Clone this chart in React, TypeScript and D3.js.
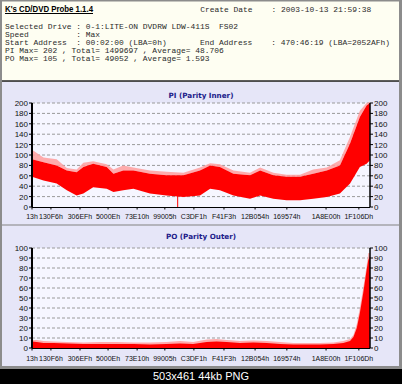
import React from "react";
import * as d3 from "d3";

// ---------- data ----------
const headerRows = [
  "Selected Drive : 0-1:LITE-ON DVDRW LDW-411S  FS02",
  "Speed          : Max",
  "Start Address  : 00:02:00 (LBA=0h)       End Address    : 470:46:19 (LBA=2052AFh)",
  "PI Max= 202 , Total= 1499697 , Average= 48.706",
  "PO Max= 105 , Total= 49052 , Average= 1.593",
];
const appTitle = "K's CD/DVD Probe 1.1.4";
const createDate = "Create Date    : 2003-10-13 21:59:38";

const xTickLabels = ["13h", "130F6h", "306EFh", "5000Eh", "73E10h", "99005h", "C3DF1h", "F41F3h", "12B054h", "169574h", "1A8E00h", "1F106Dh"];
// scan progress (%) at which each LBA label sits
const xTickPos = [0, 5.6, 14.2, 22.5, 31.1, 39.3, 47.9, 56.8, 66.0, 75.4, 87.0, 96.7];

const piTicks = [0, 20, 40, 60, 80, 100, 120, 140, 160, 180, 200];
const poTicks = [0, 10, 20, 30, 40, 50, 60, 70, 80, 90, 100];

// PI (Parity Inner): scan progress %, band low / high, spike peak
const piPos = [0, 3.4, 7.3, 10.3, 13.2, 15.2, 18.1, 22.1, 24.1, 27.0, 30.0, 34.9, 39.8, 44.8, 49.7, 52.7, 55.6, 59.6, 64.5, 67.5, 71.4, 75.3, 79.3, 83.2, 87.2, 91.1, 94.1, 97.0, 99.0, 100];
const piLow = [58, 51, 45, 32, 22, 26, 38, 35, 29, 32, 35, 26, 22, 19, 22, 35, 32, 22, 16, 22, 16, 13, 13, 16, 19, 26, 45, 77, 83, 90];
const piHigh = [92, 86, 80, 70, 67, 77, 83, 77, 64, 70, 70, 64, 61, 61, 70, 80, 77, 64, 61, 70, 61, 58, 58, 64, 70, 80, 122, 173, 195, 200];
const piPeak = [110, 95, 92, 75, 72, 85, 88, 82, 72, 80, 76, 70, 68, 66, 76, 84, 82, 70, 66, 76, 66, 62, 62, 72, 76, 90, 135, 185, 200, 202];
const piDropouts = [43.1];

// PO (Parity Outer): scan progress %, level, spike peak
const poPos = [0, 1.4, 3.4, 6.4, 10.3, 15.2, 20.1, 25.0, 30.0, 34.9, 39.8, 43.8, 47.7, 51.7, 54.6, 57.6, 61.5, 65.5, 69.4, 73.4, 77.3, 81.3, 85.2, 89.2, 92.1, 94.1, 95.1, 96.1, 97.0, 98.0, 99.0, 99.5, 100];
const poValue = [6.5, 6, 5, 5, 4.5, 4, 4, 4, 4, 3.5, 4, 4.5, 4, 6, 6.5, 6, 5, 5.5, 5, 4, 3.5, 3.5, 3.5, 4, 5, 7, 11, 20, 35, 55, 78, 88, 92];
const poPeak = [8, 8, 7, 6.5, 6, 5.5, 6, 6, 5.5, 5.5, 6, 7, 6, 8.5, 9, 8, 7, 7.5, 7, 6, 5, 5, 5, 5.5, 7, 9, 13, 24, 40, 60, 82, 95, 95];

const caption = "503x461 44kb PNG";

// ---------- layout ----------
const W = 402;
const H = 384;
const plotL = 32;
const plotR = 370;
const charW = 4.76;
const sans = "'Liberation Sans', Arial, sans-serif";
const mono = "'Liberation Mono', 'Courier New', monospace";

function Chart(props: {
  title: string;
  titleY: number;
  top: number;
  bottom: number;
  max: number;
  ticks: number[];
  labelY: number;
  clipId: string;
  children: (y: d3.ScaleLinear<number, number>, x: d3.ScaleLinear<number, number>) => React.ReactNode;
}) {
  const { title, titleY, top, bottom, max, ticks, labelY, clipId } = props;
  const x = d3.scaleLinear().domain([0, 100]).range([plotL, plotR]);
  const y = d3.scaleLinear().domain([0, max]).range([bottom, top]);
  return (
    <g>
      <text x={201} y={titleY} textAnchor="middle" fontFamily="'DejaVu Sans', Verdana, sans-serif" fontWeight="bold" fontSize={7.2} fill="#1c1c8a">
        {title}
      </text>
      <rect x={plotL} y={top} width={plotR - plotL} height={bottom - top} fill="#f6f6ff" />
      {ticks.filter((t) => t > 0).map((t) => (
        <line key={"g" + t} x1={plotL} x2={plotR} y1={y(t)} y2={y(t)} stroke="#9a9a9a" strokeWidth={1} strokeDasharray="3,2" />
      ))}
      <clipPath id={clipId}>
        <rect x={plotL} y={top - 1} width={plotR - plotL} height={bottom - top + 1} />
      </clipPath>
      <g clipPath={`url(#${clipId})`}>{props.children(y, x)}</g>
      <line x1={plotL} x2={plotL} y1={top} y2={bottom} stroke="#000" strokeWidth={2} />
      <line x1={plotR} x2={plotR} y1={top} y2={bottom} stroke="#000" strokeWidth={1.5} />
      <line x1={plotL} x2={plotR} y1={bottom + 0.5} y2={bottom + 0.5} stroke="#000" strokeWidth={1} />
      {ticks.map((t) => (
        <g key={"t" + t}>
          <line x1={plotL - 3} x2={plotL} y1={y(t)} y2={y(t)} stroke="#000" />
          <line x1={plotR} x2={plotR + 3} y1={y(t)} y2={y(t)} stroke="#000" />
          <text x={plotL - 4} y={y(t) + 3} textAnchor="end" fontFamily={sans} fontSize={8} fill="#111">{t}</text>
          <text x={plotR + 4} y={y(t) + 3} textAnchor="start" fontFamily={sans} fontSize={8} fill="#111">{t}</text>
        </g>
      ))}
      {xTickLabels.map((l, i) => (
        <g key={"x" + l}>
          <line x1={x(xTickPos[i])} x2={x(xTickPos[i])} y1={bottom} y2={bottom + 2.5} stroke="#000" />
          <text x={x(xTickPos[i])} y={labelY} textAnchor="middle" fontFamily={sans} fontSize={7} fill="#111">{l}</text>
        </g>
      ))}
    </g>
  );
}

export default function App() {
  const idx = (n: number) => d3.range(n);
  return (
    <svg width={W} height={H} style={{ position: "absolute", left: 0, top: 0 }} xmlns="http://www.w3.org/2000/svg">
      <rect x={0} y={0} width={W} height={H} fill="#000" />
      <rect x={0} y={0} width={W} height={369} fill="#8c8c8c" />
      {/* header */}
      <rect x={2} y={1.5} width={397} height={79} fill="#fefef2" />
      <line x1={2} x2={399} y1={81} y2={81} stroke="#3a3a3a" strokeWidth={1.5} />
      <text x={5} y={12} fontFamily={sans} fontWeight="bold" fontSize={8.5} fill="#000" textLength={88} lengthAdjust="spacingAndGlyphs">
        {appTitle}
      </text>
      <line x1={5} x2={93} y1={13.5} y2={13.5} stroke="#000" strokeWidth={1} />
      <text x={5 + 41 * charW} y={12} fontFamily={mono} fontSize={7.93} fill="#2a2a2a" style={{ whiteSpace: "pre" }}>
        {createDate}
      </text>
      {headerRows.map((r, i) => (
        <text key={i} x={5} y={29 + i * 8.1} fontFamily={mono} fontSize={7.93} fill="#2a2a2a" style={{ whiteSpace: "pre" }}>
          {r}
        </text>
      ))}
      {/* PI panel */}
      <rect x={2} y={82} width={397} height={142} fill="#e6e6f8" />
      <rect x={2} y={224} width={397} height={2} fill="#b4b4bc" />
      {/* PO panel */}
      <rect x={2} y={226} width={397} height={140} fill="#e6e6f8" />

      <Chart title="PI (Parity Inner)" titleY={97.5} top={103} bottom={207} max={200} ticks={piTicks} labelY={219} clipId="cpi">
        {(y, x) => {
          const ii = idx(piPos.length);
          const peak = d3.area<number>().x((i) => x(piPos[i])).y0((i) => y(piHigh[i])).y1((i) => y(piPeak[i]));
          const band = d3.area<number>().x((i) => x(piPos[i])).y0((i) => y(piLow[i])).y1((i) => y(piHigh[i]));
          return (
            <g>
              <path d={peak(ii) || ""} fill="#ff9d9d" opacity={0.85} />
              <path d={band(ii) || ""} fill="#ff0000" />
              {piDropouts.map((p) => (
                <line key={p} x1={x(p)} x2={x(p)} y1={y(30)} y2={y(0)} stroke="#ff0000" strokeWidth={1} />
              ))}
            </g>
          );
        }}
      </Chart>

      <Chart title="PO (Parity Outer)" titleY={238.5} top={248} bottom={348} max={100} ticks={poTicks} labelY={360.5} clipId="cpo">
        {(y, x) => {
          const ii = idx(poPos.length);
          const peak = d3.area<number>().x((i) => x(poPos[i])).y0(() => y(0)).y1((i) => y(poPeak[i]));
          const fill = d3.area<number>().x((i) => x(poPos[i])).y0(() => y(0)).y1((i) => y(poValue[i]));
          return (
            <g>
              <path d={peak(ii) || ""} fill="#ff9d9d" opacity={0.85} />
              <path d={fill(ii) || ""} fill="#ff0000" />
            </g>
          );
        }}
      </Chart>

      <text x={201} y={380} textAnchor="middle" fontFamily={sans} fontSize={11} fill="#fff">
        {caption}
      </text>
    </svg>
  );
}
